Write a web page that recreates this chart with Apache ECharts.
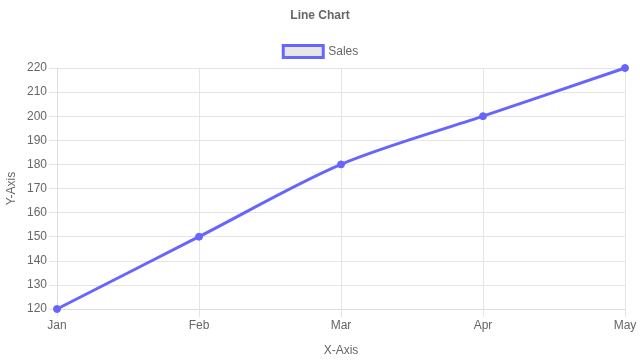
<!DOCTYPE html>
<html><head><meta charset="utf-8">
<script src="https://cdn.jsdelivr.net/npm/echarts@6/dist/echarts.min.js"></script>
<style>html,body{margin:0;padding:0;background:#fff}#c{width:640px;height:361px}</style>
</head><body><div id="c"></div>
<script>
const categories = ['Jan', 'Feb', 'Mar', 'Apr', 'May'];
const salesValues = [120, 150, 180, 200, 220];
const yTicks = [120, 130, 140, 150, 160, 170, 180, 190, 200, 210, 220];

const font = 'Liberation Sans, Arial, Helvetica, sans-serif';
const lineColor = '#6666ff';
const chart = echarts.init(document.getElementById('c'), null, {renderer: 'canvas'});
chart.setOption({
  animation: false,
  title: {
    text: 'Line Chart', left: 'center', top: 5,
    textStyle: {fontFamily: font, fontSize: 12, fontWeight: 'bold', color: '#666'}
  },
  legend: {
    top: 39, left: 'center',
    itemWidth: 40, itemHeight: 12, itemGap: 6,
    icon: 'rect',
    textStyle: {fontFamily: font, fontSize: 12, color: '#666'},
    data: [{name: 'Sales', itemStyle: {color: '#e6e6e6', borderColor: lineColor, borderWidth: 3}}]
  },
  grid: {left: 57, right: 15, top: 68, bottom: 52, containLabel: false, outerBoundsMode: 'none'},
  xAxis: {
    type: 'category', data: categories, boundaryGap: false,
    name: 'X-Axis', nameLocation: 'middle', nameGap: 36, nameMoveOverlap: false,
    nameTextStyle: {fontFamily: font, fontSize: 12, color: '#666'},
    axisLine: {show: true, lineStyle: {color: '#ddd', width: 1}},
    axisTick: {show: true, length: 8, lineStyle: {color: '#e5e5e5'}},
    axisLabel: {fontFamily: font, fontSize: 12, color: '#666', margin: 11},
    splitLine: {show: true, lineStyle: {color: '#e5e5e5', width: 1}}
  },
  yAxis: {
    type: 'value', min: yTicks[0], max: yTicks[yTicks.length - 1], interval: 10,
    name: 'Y-Axis', nameLocation: 'middle', nameGap: 39, nameRotate: 90, nameMoveOverlap: false,
    nameTextStyle: {fontFamily: font, fontSize: 12, color: '#666'},
    axisLine: {show: true, lineStyle: {color: '#ddd', width: 1}},
    axisTick: {show: true, length: 8, lineStyle: {color: '#e5e5e5'}},
    axisLabel: {fontFamily: font, fontSize: 12, color: '#666', margin: 10},
    splitLine: {show: true, lineStyle: {color: '#e5e5e5', width: 1}}
  },
  series: [{
    name: 'Sales', type: 'line', data: salesValues,
    smooth: 0.3,
    symbol: 'circle', symbolSize: 7,
    lineStyle: {color: lineColor, width: 3},
    itemStyle: {color: lineColor, borderColor: lineColor},
    clip: false
  }]
});
</script></body></html>
